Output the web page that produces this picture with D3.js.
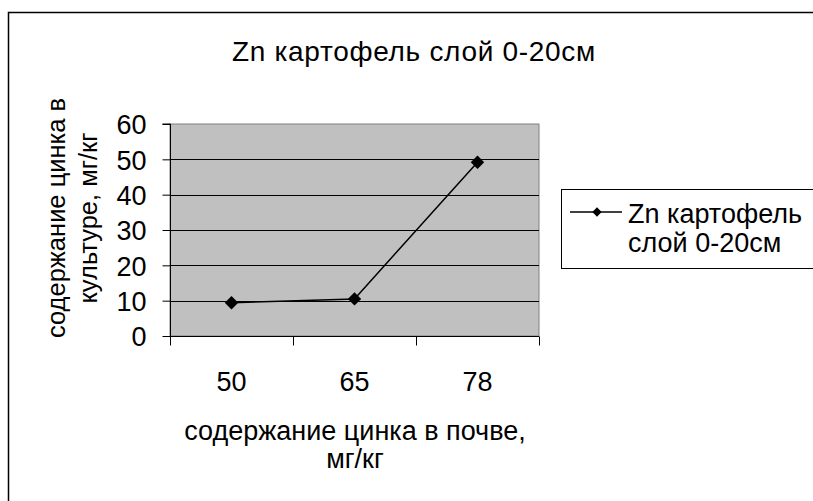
<!DOCTYPE html>
<html>
<head>
<meta charset="utf-8">
<script src="https://cdn.jsdelivr.net/npm/d3@7/dist/d3.min.js"></script>
<style>
html,body{margin:0;padding:0;background:#fff;}
svg{display:block;font-family:"Liberation Sans",Arial,sans-serif;}
</style>
</head>
<body>
<svg id="chart" width="813" height="501"></svg>
<script>
const categories = ["50", "65", "78"];
const values = [9.4, 10.5, 49.2];
const yTicks = [0, 10, 20, 30, 40, 50, 60];
const chartTitle = "Zn картофель слой 0-20см";
const xTitle = ["содержание цинка в почве,", "мг/кг"];
const yTitle = ["содержание цинка в", "культуре, мг/кг"];
const legendLines = ["Zn картофель", "слой 0-20см"];

const FS = 27;
const svg = d3.select("#chart");
const plot = {left: 170, top: 124, right: 539, bottom: 336};

// outer frame
svg.append("rect").attr("x", 8.5).attr("y", 12.5).attr("width", 900).attr("height", 600)
  .attr("fill", "#fff").attr("stroke", "#000").attr("stroke-width", 1.5);

const x = d3.scaleBand().domain(categories).range([plot.left, plot.right]).padding(0);
const y = d3.scaleLinear().domain([0, 60]).range([plot.bottom, plot.top]);

// plot area
svg.append("rect").attr("x", plot.left).attr("y", plot.top)
  .attr("width", plot.right - plot.left).attr("height", plot.bottom - plot.top)
  .attr("fill", "#c0c0c0").attr("stroke", "#808080").attr("stroke-width", 1);

// gridlines
svg.append("g").selectAll("line").data(yTicks.filter(d => d > 0 && d < 60)).join("line")
  .attr("x1", plot.left).attr("x2", plot.right)
  .attr("y1", d => Math.round(y(d)) + 0.5).attr("y2", d => Math.round(y(d)) + 0.5)
  .attr("stroke", "#000").attr("stroke-width", 1);

// y axis
const yAxis = d3.axisLeft(y).tickValues(yTicks).tickSize(8).tickPadding(16);
const gy = svg.append("g").attr("transform", `translate(${plot.left + 0.5},0)`).call(yAxis);
gy.select(".domain").attr("stroke", "#000").attr("d", `M-8,${y(60)}H0V${y(0)}`);
gy.selectAll(".tick line").attr("stroke", "#000");
gy.selectAll(".tick text").attr("font-size", FS).attr("fill", "#000")
  .attr("font-family", "Liberation Sans, Arial, sans-serif").attr("dy", "0.36em");

// x axis with ticks at band edges
const gx = svg.append("g").attr("transform", `translate(0,${plot.bottom + 0.5})`);
gx.append("line").attr("x1", plot.left).attr("x2", plot.right).attr("y1", 0).attr("y2", 0).attr("stroke", "#000");
const edges = categories.map(c => x(c)).concat([x(categories[categories.length - 1]) + x.bandwidth()]);
gx.selectAll("line.tk").data(edges).join("line").attr("class", "tk")
  .attr("x1", d => Math.round(d) + 0.5).attr("x2", d => Math.round(d) + 0.5)
  .attr("y1", 0).attr("y2", 9).attr("stroke", "#000");
gx.selectAll("text").data(categories).join("text")
  .attr("x", d => x(d) + x.bandwidth() / 2).attr("y", 390 - plot.bottom)
  .attr("text-anchor", "middle").attr("font-size", FS).text(d => d);

// line
const line = d3.line().x((d, i) => x(categories[i]) + x.bandwidth() / 2).y(d => y(d));
svg.append("path").datum(values).attr("d", line).attr("fill", "none")
  .attr("stroke", "#000").attr("stroke-width", 1.5);

const diamond = d3.symbol().type(d3.symbolDiamond2);
svg.append("g").selectAll("path").data(values).join("path")
  .attr("transform", (d, i) => `translate(${x(categories[i]) + x.bandwidth() / 2},${y(d)})`)
  .attr("d", diamond.size(115)()).attr("fill", "#000");

// title
svg.append("text").attr("x", 414).attr("y", 61).attr("text-anchor", "middle")
  .attr("font-size", 28).attr("letter-spacing", 0.7).text(chartTitle);

// x title
svg.append("g").selectAll("text").data(xTitle).join("text")
  .attr("x", 355).attr("y", (d, i) => 440 + i * 28).attr("text-anchor", "middle")
  .attr("font-size", FS).text(d => d);

// y title
svg.append("g").attr("transform", "translate(0,218) rotate(-90)")
  .selectAll("text").data(yTitle).join("text")
  .attr("x", 0).attr("y", (d, i) => 65 + i * 32).attr("text-anchor", "middle")
  .attr("font-size", 25.5).text(d => d);

// legend
const lg = svg.append("g");
lg.append("rect").attr("x", 561.5).attr("y", 189.5).attr("width", 300).attr("height", 79)
  .attr("fill", "#fff").attr("stroke", "#000").attr("stroke-width", 1);
lg.append("line").attr("x1", 570).attr("x2", 622).attr("y1", 212).attr("y2", 212)
  .attr("stroke", "#000").attr("stroke-width", 1.5);
lg.append("path").attr("transform", "translate(597,212)").attr("d", diamond.size(55)()).attr("fill", "#000");
lg.selectAll("text").data(legendLines).join("text")
  .attr("x", 628).attr("y", (d, i) => 223 + i * 29).attr("font-size", FS).text(d => d);
</script>
</body>
</html>
